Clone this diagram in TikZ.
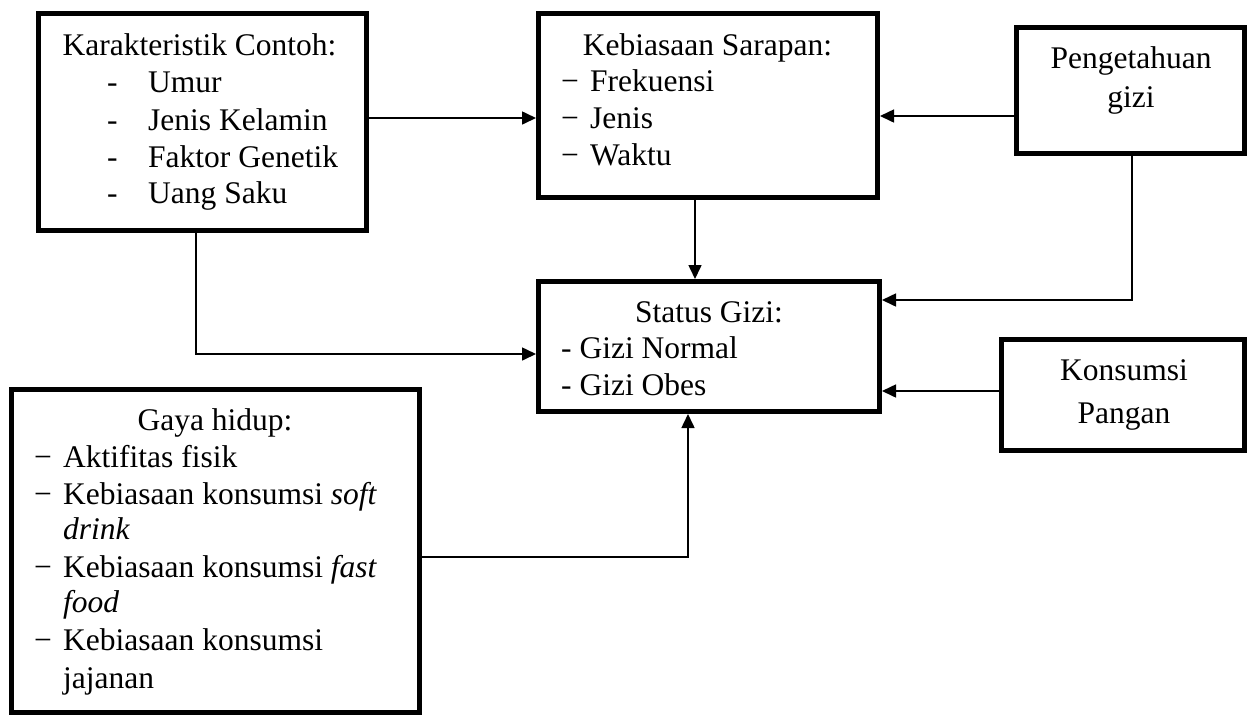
\documentclass[tikz,border=0pt]{standalone}
\usepackage{fontspec}
\setmainfont{Liberation Serif}
\usetikzlibrary{arrows.meta}
\begin{document}
\begin{tikzpicture}[x=1pt,y=1pt,
  box/.style={draw, line width=5pt, rectangle, inner sep=0pt},
  txt/.style={inner sep=0pt, font=\fontsize{31.5}{37}\selectfont},
  link/.style={line width=1.6pt, -{Triangle[length=14pt,width=13pt]}},
  ]
\useasboundingbox (0,0) rectangle (1247,-716);
% boxes
\node[box, minimum width=328pt, minimum height=217pt] (k) at (202.5,-122) {};
\node[box, minimum width=339pt, minimum height=184pt] (s) at (708,-105.5) {};
\node[box, minimum width=228pt, minimum height=126pt] (p) at (1130.5,-90.5) {};
\node[box, minimum width=341pt, minimum height=130pt] (g) at (709,-346.5) {};
\node[box, minimum width=243pt, minimum height=111pt] (c) at (1123,-395) {};
\node[box, minimum width=408pt, minimum height=323pt] (h) at (215.5,-551) {};
% texts: Karakteristik Contoh
\node[txt, anchor=base] (k0) at (199.5,-55) {Karakteristik Contoh:};
\node[txt, anchor=base west] (k1) at (107,-92) {\makebox[41pt][l]{-}Umur};
\node[txt, anchor=base west] (k2) at (107,-130) {\makebox[41pt][l]{-}Jenis Kelamin};
\node[txt, anchor=base west] (k3) at (107,-167) {\makebox[41pt][l]{-}Faktor Genetik};
\node[txt, anchor=base west] (k4) at (107,-203) {\makebox[41pt][l]{-}Uang Saku};
% Kebiasaan Sarapan
\node[txt, anchor=base] (s0) at (707.5,-55) {Kebiasaan Sarapan:};
\node[txt, anchor=base west] (s1) at (561,-91) {\makebox[29pt][l]{−}Frekuensi};
\node[txt, anchor=base west] (s2) at (561,-128) {\makebox[29pt][l]{−}Jenis};
\node[txt, anchor=base west] (s3) at (561,-165) {\makebox[29pt][l]{−}Waktu};
% Pengetahuan gizi
\node[txt, anchor=base] (p1) at (1131,-68) {Pengetahuan};
\node[txt, anchor=base] (p2) at (1131,-107) {gizi};
% Status Gizi
\node[txt, anchor=base] (g0) at (709,-322) {Status Gizi:};
\node[txt, anchor=base west] (g1) at (561,-358) {- Gizi Normal};
\node[txt, anchor=base west] (g2) at (561,-395) {- Gizi Obes};
% Konsumsi Pangan
\node[txt, anchor=base] (c1) at (1124,-380) {Konsumsi};
\node[txt, anchor=base] (c2) at (1124,-423) {Pangan};
% Gaya hidup
\node[txt, anchor=base] (h0) at (215,-430) {Gaya hidup:};
\node[txt, anchor=base west] (h1) at (34,-467) {\makebox[29pt][l]{−}Aktifitas fisik};
\node[txt, anchor=base west] (h2) at (34,-504) {\makebox[29pt][l]{−}Kebiasaan konsumsi \textit{soft}};
\node[txt, anchor=base west] (h3) at (63,-539) {\textit{drink}};
\node[txt, anchor=base west] (h4) at (34,-577) {\makebox[29pt][l]{−}Kebiasaan konsumsi \textit{fast}};
\node[txt, anchor=base west] (h5) at (63,-612) {\textit{food}};
\node[txt, anchor=base west] (h6) at (34,-650) {\makebox[29pt][l]{−}Kebiasaan konsumsi};
\node[txt, anchor=base west] (h7) at (63,-688) {jajanan};
% connector helper coordinates
\coordinate (ks) at (0,-118);
\coordinate (ps) at (0,-116);
\coordinate (sg) at (695,0);
\coordinate (pc) at (1132,-300);
\coordinate (kc) at (196,-354);
\coordinate (cy) at (0,-391);
\coordinate (hc) at (688,-557);
% connectors
\draw[link] (k.east |- ks) -- (s.west |- ks);
\draw[link] (p.west |- ps) -- (s.east |- ps);
\draw[link] (s.south -| sg) -- (g.north -| sg);
\draw[link] (p.south -| pc) -- (pc) -- (g.east |- pc);
\draw[link] (k.south -| kc) -- (kc) -- (g.west |- kc);
\draw[link] (c.west |- cy) -- (g.east |- cy);
\draw[link] (h.east |- hc) -- (hc) -- (g.south -| hc);
\end{tikzpicture}
\end{document}
